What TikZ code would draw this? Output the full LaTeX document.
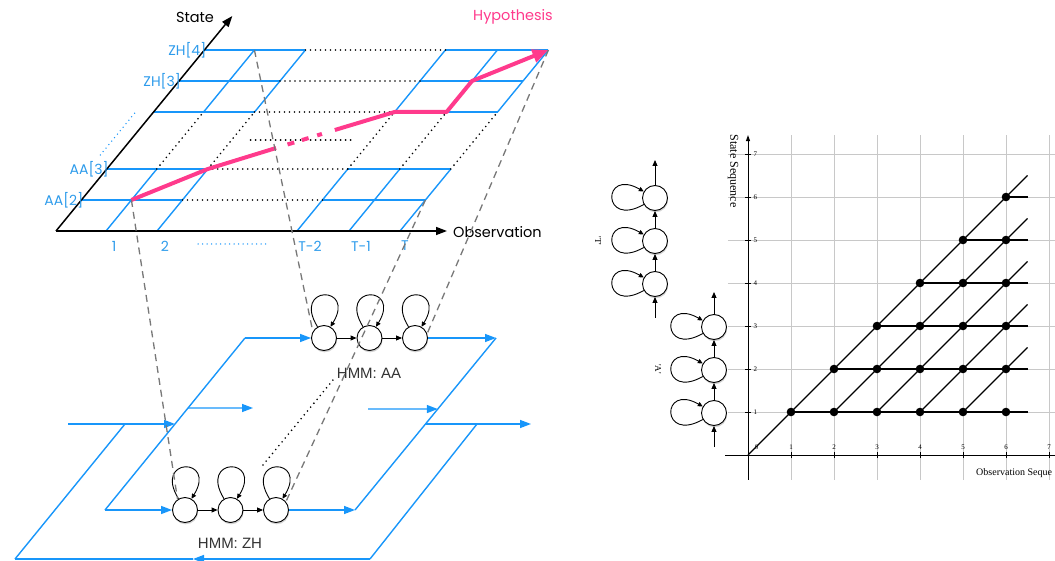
\documentclass[tikz,border=0pt]{standalone}
\usepackage{fontspec}
\setmainfont{Poppins}
\newfontfamily\hfont{Liberation Sans}
\newfontfamily\sfont{Liberation Serif}
\usetikzlibrary{arrows.meta,calc,shadows}
\definecolor{gblue}{RGB}{24,150,250}
\definecolor{lblue}{RGB}{45,155,235}
\definecolor{hpink}{RGB}{255,58,140}
\definecolor{dgray}{RGB}{120,120,120}
\definecolor{ggrid}{RGB}{200,200,200}
\definecolor{hmmtext}{RGB}{50,50,50}
\begin{document}
\begin{tikzpicture}[x=1pt,y=-1pt,
  bline/.style={draw=gblue, line width=1.4pt},
  dotblack/.style={draw=black, line width=1.8pt, line cap=round, dash pattern=on 0pt off 5pt},
  gdash/.style={draw=dgray, line width=1.3pt, dash pattern=on 7pt off 5pt},
  hmm/.style={circle, draw=black, fill=white, line width=0.9pt, minimum size=25pt, inner sep=0pt,
    drop shadow={opacity=0.35, shadow xshift=0.6pt, shadow yshift=-1.8pt}},
  loopst/.style={draw=black, line width=0.9pt, -{Triangle[length=5pt,width=4.5pt]}},
  smallarr/.style={draw=black, line width=0.9pt, -{Triangle[length=6pt,width=5pt]}},
  barr/.style={draw=gblue, line width=1.4pt, -{Triangle[length=11pt,width=8pt]}},
  axisarr/.style={draw=black, line width=1.5pt, -{Triangle[length=11pt,width=8pt]}},
  pinkst/.style={draw=hpink, line width=4pt, line join=round},
  glab/.style={text=lblue, font=\fontsize{14}{16}\selectfont, inner sep=0pt},
  blab/.style={text=black, font=\fontsize{14.5}{16}\selectfont, inner sep=0pt},
  hlab/.style={text=hmmtext, font=\hfont\fontsize{15}{17}\selectfont, inner sep=0pt},
  ggridst/.style={draw=ggrid, line width=0.6pt},
  tline/.style={draw=black, line width=1.3pt},
  tlab/.style={font=\sfont\fontsize{7}{8}\selectfont, inner sep=0pt},
]
\useasboundingbox (0,0) rectangle (1055,561);

% ================= left-top lattice (slanted frame) =================
\begin{scope}[shift={(56,231)}, x={(1pt,0pt)}, y={(0.82pt,1pt)}]
  % blue blocks
  \foreach \h in {31,62,119,150,181} {
    \draw[bline] (0,\h) -- (101,\h);
    \draw[bline] (241,\h) -- (344,\h);
  }
  \foreach \c in {50,101,241,293,344} {
    \draw[bline] (\c,0) -- (\c,62);
    \draw[bline] (\c,119) -- (\c,181);
  }
  % dotted continuation
  \foreach \h in {31,62,119,150,181}
    \draw[dotblack] (101,\h) -- (241,\h);
  \foreach \c in {50,101,241,293,344}
    \draw[dotblack] (\c,62) -- (\c,119);
  \coordinate (mda) at (120,91);
  \coordinate (mdb) at (222,91);
  \draw[dotblack] (mda) -- (mdb);
  % axes
  \coordinate (O) at (0,0);
  \coordinate (xend) at (391,0);
  \coordinate (yend) at (0,215);
  \draw[axisarr] (O) -- (xend);
  \draw[axisarr] (O) -- (yend);
  % blue dotted beside the state axis
  \coordinate (bda) at (-18,76);
  \coordinate (bdb) at (-18,118);
  \draw[draw=gblue, line width=1.5pt, line cap=round, dash pattern=on 0pt off 4.5pt] (bda) -- (bdb);
  % row labels
  \node[glab, anchor=east] (lzh4) at (2,181) {ZH[4]};
  \node[glab, anchor=east] (lzh3) at (2,150) {ZH[3]};
  \node[glab, anchor=east] (laa3) at (2,62) {AA[3]};
  \node[glab, anchor=east] (laa2) at (2,31) {AA[2]};
  % hypothesis path
  \coordinate (h0) at (50,31);
  \coordinate (h1) at (101,62);
  \coordinate (h2) at (152,83);
  \coordinate (h3) at (196,101);
  \coordinate (h4) at (241,119);
  \coordinate (h5) at (293,119);
  \coordinate (h6) at (293,150);
  \coordinate (h7) at (344,181);
  \draw[pinkst] (h0) -- (h1) -- (h2);
  \draw[draw=hpink, line width=4pt, dash pattern=on 0pt off 12pt on 7pt off 8pt on 7pt off 9pt on 5pt off 30pt] (h2) -- (h3);
  \draw[pinkst, -{Triangle[length=16pt,width=13pt]}] (h3) -- (h4) -- (h5) -- (h6) -- (h7);
  % anchors of the grey projection lines
  \coordinate (g1) at (50,31);
  \coordinate (g2) at (50,181);
  \coordinate (g3) at (344,181);
  \coordinate (g4) at (344,31);
\end{scope}

% axis labels and column labels
\node[blab] (lstate) at (195,17) {State};
\node[blab, anchor=west] (lobs) at (453,232) {Observation};
\node[text=hpink, font=\fontsize{14.5}{16}\selectfont, inner sep=0pt] (lhyp) at (513,17) {Hypothesis};
\node[glab] (c1) at (114,246) {1};
\node[glab] (c2) at (165,246) {2};
\node[glab] (cT2) at (310,246) {T-2};
\node[glab] (cT1) at (361,246) {T-1};
\node[glab] (cT) at (405,246) {T};
\coordinate (cda) at (198,244);
\coordinate (cdb) at (268,244);
\draw[draw=gblue, line width=1.5pt, line cap=round, dash pattern=on 0pt off 4.5pt] (cda) -- (cdb);

% ================= lower network of HMMs =================
\coordinate (U1) at (245,338);
\coordinate (U2) at (496,338);
\coordinate (U3) at (355,510);
\coordinate (U4) at (105,510);
\coordinate (L1) at (125,424);
\coordinate (L2) at (477,424);
\coordinate (L3) at (370,559);
\coordinate (L4) at (15,559);
\coordinate (Lm) at (193,559);
\coordinate (la) at (68,424);
\coordinate (ra) at (531,424);
\coordinate (mla) at (253,408);
\coordinate (mra) at (368,409);

\draw[bline] (U1) -- (U4);
\draw[bline] (U2) -- (U3);
\draw[bline] (L1) -- (L4);
\draw[bline] (L2) -- (L3);
\draw[bline] (Lm) -- (L4);
\draw[barr] (L3) -- (Lm);
\draw[barr] (la) -- ($(U1)!0.5!(U4)$);
\draw[barr] ($(U1)!0.407!(U4)$) -- (mla);
\draw[barr] (mra) -- ($(U2)!0.413!(U3)$);
\draw[barr] ($(U2)!0.5!(U3)$) -- (ra);

% dotted hint of intermediate HMMs
\coordinate (d1) at (263,465);
\coordinate (d2) at (333,380);
\draw[dotblack] (d1) -- (d2);

% HMM nodes
\node[hmm] (zh1) at (185,510) {};
\node[hmm] (zh2) at (230.5,510) {};
\node[hmm] (zh3) at (276,510) {};
\node[hmm] (aa1) at (324,338) {};
\node[hmm] (aa2) at (369.5,338) {};
\node[hmm] (aa3) at (415,338) {};
\node[hlab] (lzh) at (230,543) {HMM: ZH};
\node[hlab] (laa) at (369,373) {HMM: AA};

\foreach \n in {zh1,zh2,zh3,aa1,aa2,aa3}
  \draw[loopst] (\n.120) .. controls +(-26,-42) and +(26,-42) .. (\n.60);
\draw[smallarr] (zh1) -- (zh2);
\draw[smallarr] (zh2) -- (zh3);
\draw[smallarr] (aa1) -- (aa2);
\draw[smallarr] (aa2) -- (aa3);
\draw[barr] (U4) -- (zh1);
\draw[barr] (zh3) -- (U3);
\draw[barr] (U1) -- (aa1);
\draw[barr] (aa3) -- (U2);

% grey projection lines
\draw[gdash] (g1) -- (zh1.125);
\draw[gdash] (g2) -- (aa1.150);
\draw[gdash] (g3) -- (aa3.20);
\draw[gdash] (g4) -- (zh3.40);

% ================= right: state/observation lattice =================
\begin{scope}[shift={(748,455)}, x=43pt, y=43pt]
  \foreach \i in {1,...,7} \draw[ggridst] (\i,-0.58) -- (\i,7.44);
  \foreach \j in {1,...,7} \draw[ggridst] (-0.47,\j) -- (7.14,\j);
  \coordinate (RO) at (0,0);
  \coordinate (rxl) at (-0.53,0);
  \coordinate (rxr) at (7.14,0);
  \coordinate (ryb) at (0,-0.58);
  \coordinate (ryt) at (0,7.44);
  \draw[draw=black, line width=1pt] (rxl) -- (rxr);
  \draw[draw=black, line width=1pt, -{Triangle[length=6pt,width=4pt]}] (ryb) -- (ryt);
  \foreach \i in {1,...,7} {
    \draw[draw=black, line width=0.7pt] (\i,-0.07) -- (\i,0.07);
    \node[tlab] (tx\i) at (\i,0.18) {\i};
    \draw[draw=black, line width=0.7pt] (-0.07,\i) -- (0.07,\i);
    \node[tlab] (ty\i) at (0.17,\i) {\i};
  }
  \node[tlab] (t0) at (0.2,0.18) {0};
  \draw[tline] (RO) -- (6.5,6.5);
  \foreach \s in {2,3,4,5} \draw[tline] (\s,1) -- (6.5,7.5-\s);
  \foreach \j in {1,...,6} \draw[tline] (\j,\j) -- (6.5,\j);
  \foreach \i in {1,...,6} \foreach \j in {1,...,\i} \fill[black] (\i,\j) circle (4.3pt);
\end{scope}
\node[font=\sfont\fontsize{12}{14}\selectfont, rotate=-90, inner sep=0pt] (lss) at (733,171) {State Sequence};
\node[font=\sfont\fontsize{10}{12}\selectfont, anchor=west, inner sep=0pt] (los) at (976,473) {Observation Seque};

% word HMMs 'T' and 'A'
\node[hmm] (t1) at (655,284) {};
\node[hmm] (t2) at (655,241) {};
\node[hmm] (t3) at (655,198) {};
\node[hmm] (a1) at (714,413) {};
\node[hmm] (a2) at (714,370) {};
\node[hmm] (a3) at (714,327) {};
\foreach \n in {t1,t2,t3,a1,a2,a3}
  \draw[loopst] (\n.210) .. controls +(-42,24) and +(-42,-24) .. (\n.150);
\coordinate (tin) at (655,318);
\coordinate (tout) at (655,160);
\coordinate (ain) at (714,447);
\coordinate (aout) at (714,292);
\draw[smallarr] (tin) -- (t1);
\draw[smallarr] (t1) -- (t2);
\draw[smallarr] (t2) -- (t3);
\draw[smallarr] (t3) -- (tout);
\draw[smallarr] (ain) -- (a1);
\draw[smallarr] (a1) -- (a2);
\draw[smallarr] (a2) -- (a3);
\draw[smallarr] (a3) -- (aout);
\node[font=\sfont\fontsize{9}{10}\selectfont, rotate=-90, inner sep=0pt] (lT) at (598,241) {'T'};
\node[font=\sfont\fontsize{9}{10}\selectfont, rotate=-90, inner sep=0pt] (lA) at (658,369) {'A'};
\end{tikzpicture}
\end{document}
